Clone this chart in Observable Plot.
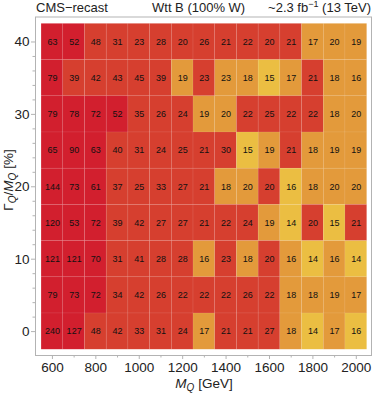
<!DOCTYPE html>
<html><head><meta charset="utf-8">
<script src="https://cdn.jsdelivr.net/npm/d3@7"></script>
<script src="https://cdn.jsdelivr.net/npm/@observablehq/plot@0.6"></script>
<style>
body{margin:0;background:#fff;font-family:"Liberation Sans",Arial,sans-serif}
#title{position:relative;width:374px;height:16px;font-size:13px;color:#222}
#title span{position:absolute;top:1px;white-space:nowrap;line-height:14px}
#title sup{font-size:9px;line-height:0;vertical-align:5px}
#chart svg{display:block}
</style></head><body>
<div id="title"><span style="left:36px">CMS−recast</span><span style="left:152px">Wtt B (100% W)</span><span style="right:3px">~2.3 fb<sup>−1</sup> (13 TeV)</span></div>
<div id="chart"></div>
<script>
const masses = [600,700,800,900,1000,1100,1200,1300,1400,1500,1600,1700,1800,1900,2000];
const widths = [40,35,30,25,20,15,10,5,0];
const values = [
 [63,52,48,31,23,28,20,26,21,22,20,21,17,20,19],
 [79,39,42,43,45,39,19,23,23,18,15,17,21,18,16],
 [79,78,72,52,35,26,24,19,20,22,25,22,22,18,20],
 [65,90,63,40,31,24,25,21,30,15,19,21,18,19,19],
 [144,73,61,37,25,33,27,21,18,20,20,16,18,20,20],
 [120,53,72,39,42,27,27,21,22,24,19,14,20,15,21],
 [121,121,70,31,41,28,28,16,23,18,20,16,14,16,14],
 [79,73,72,34,42,26,22,22,22,26,22,18,18,19,17],
 [240,127,48,42,33,31,24,17,21,21,27,18,14,17,16]
];
const classes = [
 "CCRRRRRRRRRROOO",
 "CRRRRROROOYOROO",
 "CCCCRRROORRRROO",
 "CCCRRRRRRYOROOO",
 "CCCRRRRROORYOOO",
 "CCCRRRRRRROYRYR",
 "CCCRRRROROROYOY",
 "CCCRRRRRRRROOOO",
 "CCRRRRRORRROYOY"
];
const classNames = ["C","R","O","Y"];
const classColors = ["#d21f2e","#d63f2f","#e39a3b","#ebbe42"];
const xTicks = [600,800,1000,1200,1400,1600,1800,2000];
const xMinor = [700,900,1100,1300,1500,1700,1900];
const yTicks = [0,10,20,30,40];
const yMinor = [2,4,6,8,12,14,16,18,22,24,26,28,32,34,36,38];

const cells = [];
widths.forEach((g,i)=>masses.forEach((m,j)=>cells.push({m, g, v: values[i][j], cls: classes[i][j]})));

const axisColor = "#b3b3b3";
const plot = Plot.plot({
  width: 374, height: 378,
  marginLeft: 35, marginRight: 3, marginTop: 0.5, marginBottom: 39,
  style: {fontFamily: "Liberation Sans, Arial, sans-serif", fontSize: "13.5px", color: "#222", background: "#fff"},
  x: {domain: [522, 2070], axis: null},
  y: {domain: [-3.3, 43.45], axis: null},
  color: {type: "ordinal", domain: classNames, range: classColors},
  marks: [
    Plot.rect(cells, {x1: d => d.m - 50, x2: d => d.m + 50, y1: d => d.g - 2.5, y2: d => d.g + 2.5,
      fill: "cls", stroke: "white", strokeOpacity: 0.12, strokeWidth: 0.6}),
    Plot.text(cells, {x: "m", y: "g", text: d => String(d.v), fontSize: 9, fill: "#111"}),
    Plot.frame({stroke: axisColor}),
    Plot.axisX({ticks: xTicks, tickFormat: d3.format("d"), tickSize: 4, tickPadding: 3, stroke: axisColor, fill: "#222", label: null, fontSize: 13.5}),
    Plot.axisX({ticks: xMinor, tickFormat: () => "", tickSize: 2.5, stroke: axisColor, label: null}),
    Plot.axisY({ticks: yTicks, tickFormat: d3.format("d"), tickSize: 4, tickPadding: 2, stroke: axisColor, fill: "#222", label: null, fontSize: 13.5}),
    Plot.axisY({ticks: yMinor, tickFormat: () => "", tickSize: 2.5, stroke: axisColor, label: null})
  ]
});
document.getElementById("chart").appendChild(plot);

const svg = d3.select(plot);
const yl = svg.append("text")
  .attr("transform", "translate(13,164) rotate(-90)")
  .attr("text-anchor", "middle")
  .attr("font-size", 13.5).attr("fill", "#222");
yl.append("tspan").text("Γ");
yl.append("tspan").attr("font-style", "italic").attr("font-size", 10).attr("dy", 3).text("Q");
yl.append("tspan").attr("dy", -3).text("/");
yl.append("tspan").attr("font-style", "italic").text("M");
yl.append("tspan").attr("font-style", "italic").attr("font-size", 10).attr("dy", 3).text("Q");
yl.append("tspan").attr("dy", -3).text(" [%]");

const xl = svg.append("text")
  .attr("transform", "translate(204,372)")
  .attr("text-anchor", "middle")
  .attr("font-size", 13.5).attr("fill", "#222");
xl.append("tspan").attr("font-style", "italic").text("M");
xl.append("tspan").attr("font-style", "italic").attr("font-size", 10).attr("dy", 3).text("Q");
xl.append("tspan").attr("dy", -3).text(" [GeV]");
</script>
</body></html>
